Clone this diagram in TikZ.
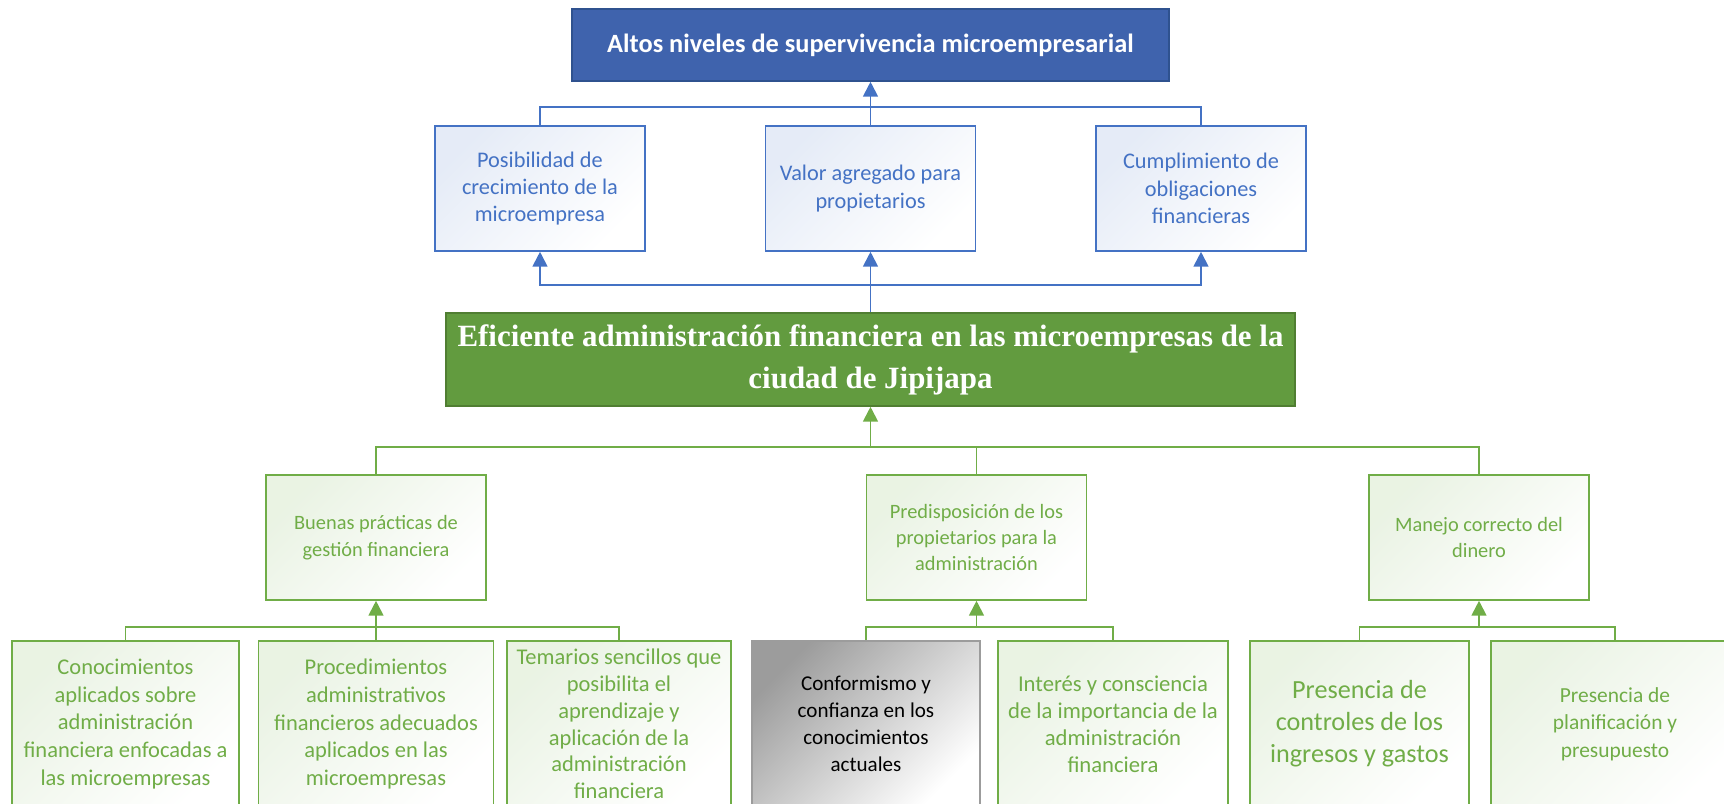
\documentclass[tikz,border=0pt]{standalone}
\usepackage{fontspec}
\setmainfont{Carlito}
\newfontfamily\serifbold{Liberation Serif}
\usetikzlibrary{arrows.meta}
\definecolor{azul}{HTML}{4472C4}
\definecolor{azulfondo}{HTML}{3F63AD}
\definecolor{azulborde}{HTML}{2F528F}
\definecolor{verde}{HTML}{70AD47}
\definecolor{verdefondo}{HTML}{629B3F}
\definecolor{verdeborde}{HTML}{507E32}
\definecolor{gris}{HTML}{9C9C9C}
\newcommand{\fs}[2]{\fontsize{#1}{#2}\selectfont}

\begin{document}
\begin{tikzpicture}[x=0.02cm,y=-0.02cm,
  >={Triangle[length=8.5pt,width=8.5pt]},
  caja/.style={draw,line width=0.9pt,align=center,inner sep=2pt},
  efecto/.style={caja,draw=azul,text=azul,top color=azul!14,bottom color=white,shading angle=45,
    minimum width=210*0.02cm,minimum height=125*0.02cm,font=\fs{12.7}{15.6}},
  causa/.style={caja,draw=verde,text=verde,top color=verde!15,bottom color=white,shading angle=45,
    minimum width=220*0.02cm,minimum height=125*0.02cm,font=\fs{11.6}{15}},
  hoja/.style={causa,minimum height=166*0.02cm,font=\fs{12.8}{15.8}},
  lineaA/.style={azul,line width=1.1pt},
  lineaV/.style={verde,line width=1.1pt}]
\clip (0,0) rectangle (1724,804);
\useasboundingbox (0,0) rectangle (1724,804);

\node[caja,draw=azulborde,fill=azulfondo,text=white,font=\bfseries\fs{15}{18},
  minimum width=597*0.02cm,minimum height=72*0.02cm] (t) at (870.5,45)
  {Altos niveles de supervivencia microempresarial};

\node[efecto] (p1) at (540,188.5) {Posibilidad de\\crecimiento de la\\microempresa};
\node[efecto] (p2) at (870.5,188.5) {Valor agregado para\\propietarios};
\node[efecto] (p3) at (1201,188.5) {Cumplimiento de\\obligaciones\\financieras};

\node[caja,draw=verdeborde,fill=verdefondo,text=white,font=\serifbold\bfseries\fs{17.6}{23.9},
  minimum width=849*0.02cm,minimum height=93*0.02cm] (g) at (870.5,359.5)
  {Eficiente administración financiera en las microempresas de la\\ciudad de Jipijapa};

\node[causa] (b1) at (376,537.5) {Buenas prácticas de\\gestión financiera};
\node[causa] (b2) at (976.5,537.5) {Predisposición de los\\propietarios para la\\administración};
\node[causa] (b3) at (1479,537.5) {Manejo correcto del\\dinero};

\node[hoja,minimum width=227*0.02cm] (c1) at (125.5,724)
  {Conocimientos\\aplicados sobre\\administración\\financiera enfocadas a\\las microempresas};
\node[hoja,minimum width=235*0.02cm] (c2) at (376,724)
  {Procedimientos\\administrativos\\financieros adecuados\\aplicados en las\\microempresas};
\node[hoja,minimum width=224*0.02cm,font=\fs{12.8}{15.2}] (c3) at (619,724)
  {Temarios sencillos que\\posibilita el\\aprendizaje y\\aplicación de la\\administración\\financiera};
\node[hoja,minimum width=228*0.02cm,draw=gris,top color=gris,bottom color=white,shading angle=45,
  text=black,font=\fs{12}{15.4}] (c4) at (866,724)
  {Conformismo y\\confianza en los\\conocimientos\\actuales};
\node[hoja,minimum width=230*0.02cm,font=\fs{12.9}{15.3}] (c5) at (1113,724)
  {Interés y consciencia\\de la importancia de la\\administración\\financiera};
\node[hoja,minimum width=219*0.02cm,font=\fs{14.9}{18.2}] (c6) at (1359.5,724)
  {Presencia de\\controles de los\\ingresos y gastos};
\node[hoja,minimum width=248*0.02cm,font=\fs{12.2}{15.6}] (c7) at (1615,724)
  {Presencia de\\planificación y\\presupuesto};

\coordinate (j1) at (870.5,107);
\coordinate (j2) at (870.5,285);
\coordinate (j3) at (870.5,447);
\coordinate (j5) at (976.5,627);
\coordinate (j6) at (1479,627);

\draw[lineaA] (p1.north) |- (j1) -| (p3.north);
\draw[lineaA,->] (p2.north) -- (t.south);
\draw[lineaA,->] (g.north) -- (p2.south);
\draw[lineaA,->] (j2) -| (p1.south);
\draw[lineaA,->] (j2) -| (p3.south);

\draw[lineaV,->] (j3) -- (g.south);
\draw[lineaV] (b1.north) |- (j3) -| (b3.north);
\draw[lineaV] (b2.north) -- (b2.north |- j3);

\draw[lineaV] (c1.north) |- (c2.north |- j5) -| (c3.north);
\draw[lineaV,->] (c2.north) -- (b1.south);
\draw[lineaV] (c4.north) |- (j5) -| (c5.north);
\draw[lineaV,->] (j5) -- (b2.south);
\draw[lineaV] (c6.north) |- (j6) -| (c7.north);
\draw[lineaV,->] (j6) -- (b3.south);
\end{tikzpicture}
\end{document}
